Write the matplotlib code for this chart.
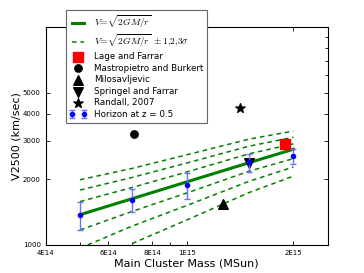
import numpy as np
import matplotlib
matplotlib.use('Agg')
import matplotlib.pyplot as plt
import matplotlib.ticker as ticker

plt.rcParams['mathtext.fontset'] = 'cm'

# horizon clusters at z = 0.5
mass = [5e14, 7e14, 1e15, 1.5e15, 2e15]
v_horizon = [1373, 1613, 1884, 2411, 2568]
v_err_low = [1172, 1421, 1620, 2156, 2346]
v_err_high = [1575, 1807, 2133, 2614, 2756]

# escape velocity V = sqrt(2GM/r) and its 1,2,3 sigma band
v_fit = [1377, 1629, 1947, 2385, 2750]
band_center = [1377, 1629, 1947, 2400, 2700]
band_sigma = [205, 205, 215, 220, 210]

# single clusters from the literature
lage_m, lage_v = [1.9e15], [2900]
mastro_m, mastro_v = [7.1e14], [3220]
milo_m, milo_v = [1.27e15], [1545]
springel_m, springel_v = [1.5e15], [2390]
randall_m, randall_v = [1.41e15], [4230]

xticks = [4e14, 6e14, 8e14, 1e15, 2e15]
xtick_labels = ['4E14', '6E14', '8E14', '1E15', '2E15']
xminor = [5e14, 7e14, 9e14]
yticks = [1000, 2000, 3000, 4000, 5000]
ytick_labels = ['1000', '2000', '3000', '4000', '5000']
yminor = [6000, 7000, 8000, 9000]

fig = plt.figure(figsize=(3.64, 2.73), dpi=100)
ax = fig.add_axes([0.1255, 0.1026, 0.7748, 0.7985])

green = (0, 0.5, 0)
h_fit, = ax.plot(mass, v_fit, color=green, lw=2.2, label=r'$V\!=\!\sqrt{2GM/r}$')
h_band = None
for n in [3, 2, 1, -1, -2, -3]:
    band = np.array(band_center) + n * np.array(band_sigma)
    h, = ax.plot(mass, band, color=green, lw=1.1, ls='--', dashes=(3, 2.5))
    if h_band is None:
        h_band = h
h_band.set_label(r'$V\!=\!\sqrt{2GM/r}\;\pm 1{,}2{,}3\sigma$')

h_lage = ax.scatter(lage_m, lage_v, marker='s', s=48, color='r', label='Lage and Farrar', zorder=4)
h_mastro = ax.scatter(mastro_m, mastro_v, marker='o', s=28, color='k', label='Mastropietro and Burkert', zorder=4)
h_milo = ax.scatter(milo_m, milo_v, marker='^', s=48, color='k', label='Milosavljevic', zorder=4)
h_spr = ax.scatter(springel_m, springel_v, marker='v', s=48, color='k', label='Springel and Farrar', zorder=4)
h_ran = ax.scatter(randall_m, randall_v, marker='*', s=48, color='k', label='Randall, 2007', zorder=4)

yerr = [np.array(v_horizon) - np.array(v_err_low), np.array(v_err_high) - np.array(v_horizon)]
h_hor = ax.errorbar(mass, v_horizon, yerr=yerr, fmt='o', color='b', ecolor='#7070ff',
                    ms=3, capsize=2, elinewidth=1, zorder=5, label='Horizon at z = 0.5')

ax.set_xscale('log')
ax.set_yscale('log')
ax.set_xlim(4e14, 2.5e15)
ax.set_ylim(1000, 10000)

ax.set_xticks(xticks)
ax.set_xticklabels(xtick_labels)
ax.xaxis.set_minor_locator(ticker.FixedLocator(xminor))
ax.xaxis.set_minor_formatter(ticker.NullFormatter())
ax.set_yticks(yticks)
ax.set_yticklabels(ytick_labels)
ax.yaxis.set_minor_locator(ticker.FixedLocator(yminor))
ax.yaxis.set_minor_formatter(ticker.NullFormatter())

ax.tick_params(which='both', direction='in', top=True, right=True, labelsize=5, length=3, width=0.6)
ax.tick_params(which='minor', left=False, length=2)
for s in ax.spines.values():
    s.set_linewidth(0.8)

ax.set_xlabel('Main Cluster Mass (MSun)', fontsize=8, labelpad=2)
ax.set_ylabel('V2500 (km/sec)', fontsize=8, labelpad=1)

handles = [h_fit, h_band, h_lage, h_mastro, h_milo, h_spr, h_ran, h_hor]
labels = [h.get_label() for h in handles]
leg = ax.legend(handles, labels, loc='upper left', bbox_to_anchor=(66 / 364, 1 - 10 / 273),
                bbox_transform=fig.transFigure, fontsize=6.3, numpoints=2, scatterpoints=1,
                fancybox=False, edgecolor='0.4', framealpha=1, borderaxespad=0,
                labelspacing=0.3, handlelength=2.0, handletextpad=0.8, borderpad=0.4)
leg.get_frame().set_linewidth(0.8)
leg.get_texts()[0].set_fontsize(6.8)
leg.get_texts()[1].set_fontsize(6.8)
leg.set_zorder(10)

fig.savefig('out.png', dpi=100)
